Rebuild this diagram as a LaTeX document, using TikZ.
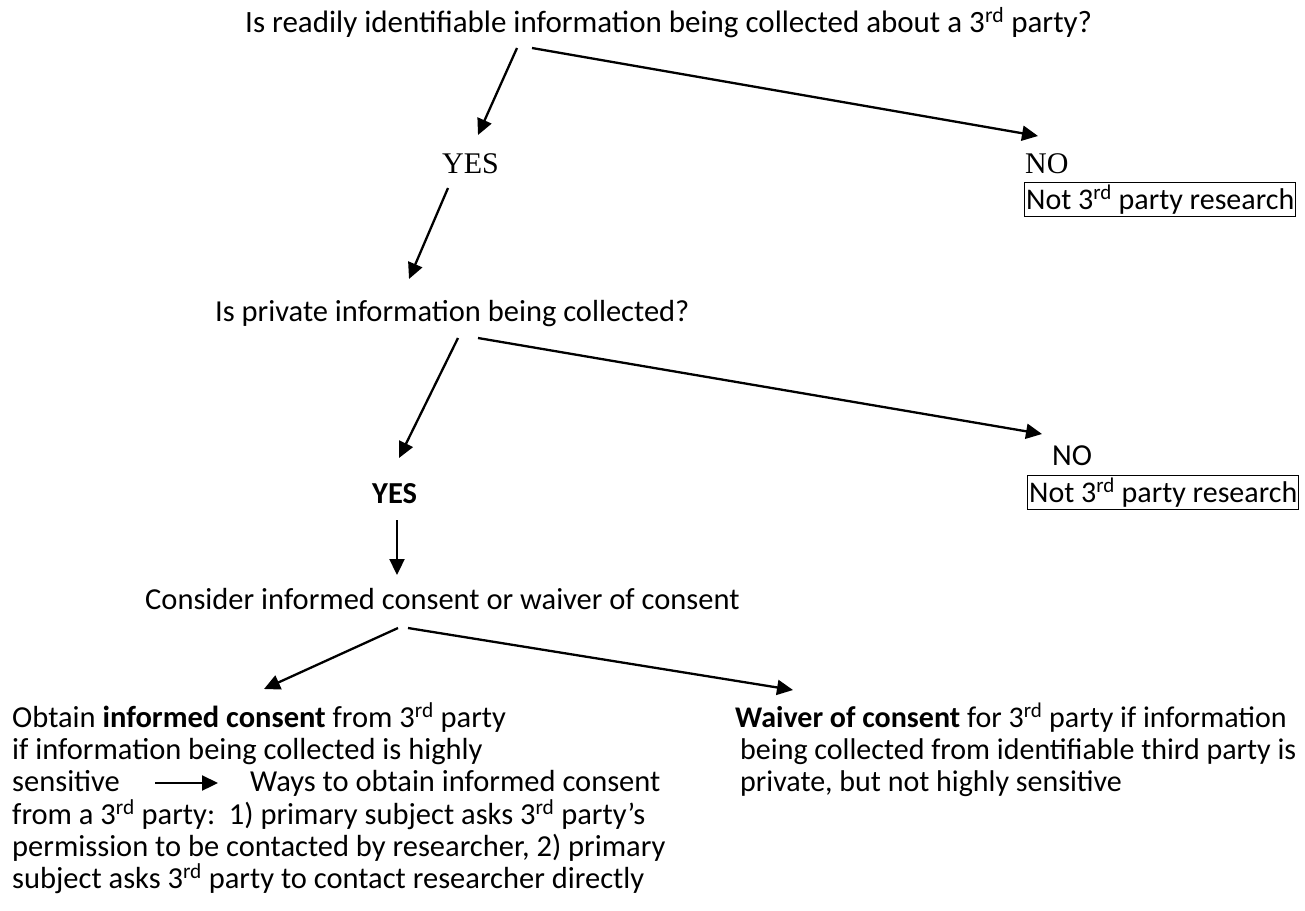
\documentclass[tikz,border=0pt]{standalone}
\usepackage{fontspec}
\setmainfont{Carlito}
\newfontfamily\serifyes{Liberation Serif}
\usetikzlibrary{arrows.meta}
\newcommand\rdsup{\textsuperscript{rd}}
\begin{document}
\begin{tikzpicture}[x=1pt,y=-1pt,
  txt/.style={inner sep=0pt,anchor=base west,font=\fontsize{30.5}{34}\selectfont},
  sertxt/.style={inner sep=0pt,anchor=base west,font=\serifyes\fontsize{30}{34}\selectfont},
  boxtxt/.style={draw,line width=1.3pt,inner xsep=1.5pt,inner ysep=3pt,anchor=base west,font=\fontsize{30}{34}\selectfont},
  arr/.style={line width=2.3pt,-{Triangle[length=16pt,width=15pt]}}]
\useasboundingbox (0,0) rectangle (1305,910);
\node[txt,font=\fontsize{31}{34}\selectfont] (q1) at (245,32) {Is readily identifiable information being collected about a 3\rdsup{} party?};
\node[sertxt] (yes1) at (442,173) {YES};
\node[sertxt] (no1) at (1025,173) {NO};
\node[boxtxt] (n1) at (1024,209) {Not 3\rdsup{} party research};
\node[txt] (q2) at (215,321) {Is private information being collected?};
\node[txt] (no2) at (1052,465) {NO};
\node[boxtxt] (n2) at (1027,502) {Not 3\rdsup{} party research};
\node[txt] (yes2) at (372,503) {\bfseries YES};
\node[txt] (q3) at (145,609) {Consider informed consent or waiver of consent};
\node[txt] (l1) at (12,727) {Obtain \textbf{informed consent} from 3\rdsup{} party};
\node[txt] (l2) at (12,759) {if information being collected is highly};
\node[txt] (l3a) at (12,791) {sensitive};
\node[txt] (l3b) at (250,791) {Ways to obtain informed consent};
\node[txt] (l4) at (12,824) {from a 3\rdsup{} party:\ \ 1) primary subject asks 3\rdsup{} party’s};
\node[txt] (l5) at (12,856) {permission to be contacted by researcher, 2) primary};
\node[txt] (l6) at (12,888) {subject asks 3\rdsup{} party to contact researcher directly};
\node[txt,font=\fontsize{30}{34}\selectfont] (r1) at (735,727) {\textbf{Waiver of consent} for 3\rdsup{} party if information};
\node[txt,font=\fontsize{30}{34}\selectfont] (r2) at (740,759) {being collected from identifiable third party is};
\node[txt,font=\fontsize{30}{34}\selectfont] (r3) at (740,791) {private, but not highly sensitive};
\coordinate (a1s) at (517,48); \coordinate (a2s) at (532,48);
\coordinate (a3s) at (448,188);
\coordinate (a4s) at (458,338); \coordinate (a5s) at (478,338);
\coordinate (a6s) at (397,520);
\coordinate (a7s) at (398,628); \coordinate (a8s) at (408,628);
\coordinate (a9s) at (155,783); \coordinate (a9e) at (218,783);
\draw[arr] (a1s) -- (478,135);
\draw[arr] (a2s) -- (1038,136);
\draw[arr] (a3s) -- (409,279);
\draw[arr] (a4s) -- (399,458);
\draw[arr] (a5s) -- (1042,434);
\draw[arr] (a6s) -- (397,575);
\draw[arr] (a7s) -- (264,689);
\draw[arr] (a8s) -- (793,690);
\draw[arr] (a9s) -- (a9e);
\end{tikzpicture}
\end{document}
